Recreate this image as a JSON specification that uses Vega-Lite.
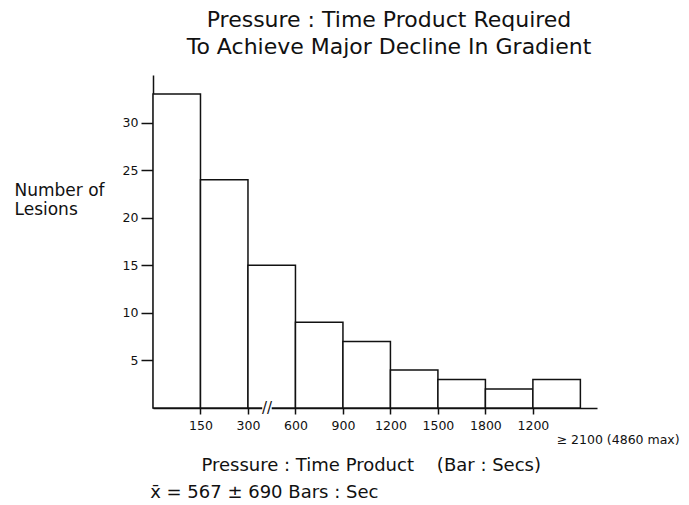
{
  "$schema": "https://vega.github.io/schema/vega-lite/v6.json",
  "width": 444,
  "height": 333,
  "autosize": {"type": "none"},
  "padding": {"left": 153, "top": 75, "right": 92, "bottom": 97},
  "background": "white",
  "config": {
    "view": {"stroke": null},
    "font": "DejaVu Sans",
    "axis": {"domainColor": "#111", "tickColor": "#111", "labelColor": "#111", "titleColor": "#111", "grid": false, "domainWidth": 1.5, "tickWidth": 1.5}
  },
  "title": {
    "text": ["Pressure : Time Product Required", "To Achieve Major Decline In Gradient"],
    "fontSize": 22,
    "fontWeight": "normal",
    "font": "DejaVu Sans",
    "color": "#111",
    "lineHeight": 27,
    "anchor": "middle",
    "frame": "group",
    "dx": 14,
    "offset": 16
  },
  "layer": [
    {
      "data": {
        "values": [
          {"bin": 0, "count": 33},
          {"bin": 1, "count": 24},
          {"bin": 2, "count": 15},
          {"bin": 3, "count": 9},
          {"bin": 4, "count": 7},
          {"bin": 5, "count": 4},
          {"bin": 6, "count": 3},
          {"bin": 7, "count": 2},
          {"bin": 8, "count": 3}
        ]
      },
      "transform": [{"calculate": "datum.bin + 1", "as": "bin_end"}],
      "mark": {"type": "rect", "fill": "white", "stroke": "#111", "strokeWidth": 1.5},
      "encoding": {
        "x": {
          "field": "bin", "type": "quantitative",
          "scale": {"domain": [0, 9.35], "nice": false, "zero": false},
          "axis": {
            "values": [1, 2, 3, 4, 5, 6, 7, 8],
            "labelExpr": "['','150','300','600','900','1200','1500','1800','1200'][datum.value]",
            "tickSize": 6,
            "labelPadding": 5,
            "labelFontSize": 12.5,
            "labelFont": "DejaVu Sans",
            "title": "Pressure : Time Product\u00a0\u00a0\u00a0\u00a0(Bar : Secs)",
            "titleFont": "DejaVu Sans",
            "titleFontSize": 18,
            "titleFontWeight": "normal",
            "titleAlign": "left",
            "titleX": 48,
            "titleY": 62,
            "titleBaseline": "alphabetic"
          }
        },
        "x2": {"field": "bin_end"},
        "y": {
          "field": "count", "type": "quantitative",
          "scale": {"domain": [0, 35], "nice": false},
          "axis": {
            "values": [5, 10, 15, 20, 25, 30],
            "tickSize": 12,
            "labelPadding": 3,
            "labelFontSize": 12.5,
            "labelFont": "DejaVu Sans",
            "title": ["Number of", "Lesions"],
            "titleFont": "DejaVu Sans",
            "titleAngle": 0,
            "titleAlign": "left",
            "titleBaseline": "top",
            "titleX": -139,
            "titleY": 107,
            "titleFontSize": 17,
            "titleFontWeight": "normal",
            "titleLineHeight": 19
          }
        },
        "y2": {"datum": 0}
      }
    },
    {
      "data": {"values": [{}]},
      "mark": {"type": "rect", "fill": "white"},
      "encoding": {
        "x": {"datum": 2.3},
        "x2": {"datum": 2.5},
        "y": {"datum": -0.35},
        "y2": {"datum": 0.35}
      }
    },
    {
      "data": {"values": [{}]},
      "mark": {"type": "text", "text": "//", "fontSize": 15, "fontWeight": "normal", "align": "center", "baseline": "middle", "color": "#111", "font": "DejaVu Sans"},
      "encoding": {"x": {"datum": 2.4}, "y": {"datum": 0}}
    },
    {
      "data": {"values": [{}]},
      "mark": {"type": "text", "text": "≥ 2100 (4860 max)", "fontSize": 12.5, "fontWeight": "normal", "align": "left", "baseline": "middle", "color": "#111", "font": "DejaVu Sans"},
      "encoding": {"x": {"datum": 8.5}, "y": {"datum": -3.37}}
    },
    {
      "data": {"values": [{}]},
      "mark": {"type": "text", "text": "x̄ = 567 ± 690 Bars : Sec", "fontSize": 18, "fontWeight": "normal", "align": "left", "baseline": "alphabetic", "color": "#111", "font": "DejaVu Sans"},
      "encoding": {"x": {"datum": -0.06}, "y": {"datum": -9.47}}
    }
  ]
}
